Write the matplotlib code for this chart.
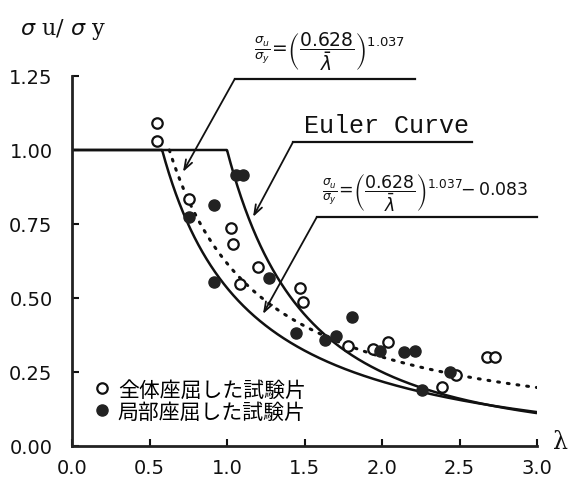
import numpy as np
import matplotlib
matplotlib.use("Agg")
import matplotlib.pyplot as plt

plt.rcParams['font.family'] = ['DejaVu Sans', 'Noto Sans CJK JP']

# ---- data ----
global_lam = [0.548, 0.548, 0.755, 1.026, 1.04, 1.084, 1.20, 1.47, 1.49,
              1.78, 1.94, 2.04, 2.39, 2.48, 2.68, 2.73]
global_val = [1.091, 1.03, 0.834, 0.736, 0.682, 0.547, 0.605, 0.534, 0.486,
              0.338, 0.328, 0.351, 0.199, 0.24, 0.30, 0.30]
local_lam = [1.06, 1.10, 0.916, 0.755, 0.916, 1.27, 1.806, 1.445, 1.63, 1.70,
             1.99, 2.14, 2.21, 2.44, 2.26]
local_val = [0.915, 0.915, 0.814, 0.774, 0.554, 0.567, 0.436, 0.382, 0.358, 0.372,
             0.321, 0.318, 0.321, 0.25, 0.189]
coef_a = 0.628
coef_n = 1.037
coef_shift = 0.083
legend_labels = ['全体座屈した試験片', '局部座屈した試験片']
xticks = [0.0, 0.5, 1.0, 1.5, 2.0, 2.5, 3.0]
yticks = [0.00, 0.25, 0.50, 0.75, 1.00, 1.25]

W, H = 583, 485
fig = plt.figure(figsize=(W / 100, H / 100), dpi=100)
ax = fig.add_axes([72 / W, 1 - 447 / H, (537 - 72) / W, (447 - 77) / H])
ax.set_xlim(0, 3.0)
ax.set_ylim(0, 1.25)

lam = np.linspace(0.0, 3.0, 1200)
# Euler curve
euler = np.where(lam <= 1.0, 1.0, 1.0 / np.maximum(lam, 1e-9) ** 2)
ax.plot(lam, euler, color='#111111', lw=1.8, solid_capstyle='butt')
# mean curve (dotted)
mean = np.minimum(1.0, (coef_a / np.maximum(lam, 1e-9)) ** coef_n)
m = lam >= coef_a
ax.plot(lam[m], mean[m], color='#111111', lw=2.2, linestyle=(0, (0.6, 2.6)),
        dash_capstyle='round')
# lower curve
lower = np.minimum(1.0, (coef_a / np.maximum(lam, 1e-9)) ** coef_n - coef_shift)
ax.plot(lam, lower, color='#111111', lw=1.8)

ax.plot(global_lam, global_val, 'o', ms=7.5, mfc='white', mec='#111111', mew=1.6,
        zorder=5, label=legend_labels[0])
ax.plot(local_lam, local_val, 'o', ms=8, mfc='#222222', mec='#222222', mew=1.0,
        zorder=5, label=legend_labels[1])

for s in ['top', 'right']:
    ax.spines[s].set_visible(False)
for s in ['left', 'bottom']:
    ax.spines[s].set_linewidth(2.0)
    ax.spines[s].set_color('#222222')
ax.set_xticks(xticks)
ax.set_yticks(yticks)
ax.set_xticklabels([f'{v:.1f}' for v in xticks])
ax.set_yticklabels([f'{v:.2f}' for v in yticks])
ax.tick_params(direction='in', length=5, width=1.5, labelsize=14, colors='#111111')
ax.tick_params(axis='y', pad=14)
ax.tick_params(axis='x', pad=9)

leg = ax.legend(loc='lower left', bbox_to_anchor=(0.02, 0.035), frameon=False,
                fontsize=15, handletextpad=0.25, labelspacing=0.0,
                handlelength=1.0, borderpad=0.2, borderaxespad=0.3)
for t in leg.get_texts():
    t.set_family(['Noto Sans CJK JP', 'DejaVu Sans'])

arrow = dict(arrowstyle='->, head_length=0.7, head_width=0.25', color='#111111',
             lw=1.3, shrinkA=0, shrinkB=0)
# formula 1 leader
ax.plot([1.05, 2.21], [1.24, 1.24], color='#111111', lw=1.6, clip_on=False)
ax.annotate('', xy=(0.716, 0.926), xytext=(1.05, 1.24), arrowprops=arrow,
            annotation_clip=False)
ax.text(1.66, 1.265,
        r'$\frac{\sigma_u}{\sigma_y}\!=\!\left(\dfrac{0.628}{\bar{\lambda}}\right)^{1.037}$',
        ha='center', va='bottom', fontsize=13.5, color='#111111')
# Euler leader
ax.plot([1.426, 2.58], [1.027, 1.027], color='#111111', lw=1.6, clip_on=False)
ax.annotate('', xy=(1.168, 0.774), xytext=(1.426, 1.027), arrowprops=arrow,
            annotation_clip=False)
ax.text(2.03, 1.045, 'Euler Curve', ha='center', va='bottom', fontsize=18,
        family='Liberation Mono', color='#111111')
# formula 2 leader
ax.plot([1.58, 3.0], [0.774, 0.774], color='#111111', lw=1.6, clip_on=False)
ax.annotate('', xy=(1.232, 0.446), xytext=(1.58, 0.774), arrowprops=arrow,
            annotation_clip=False)
ax.text(2.28, 0.79,
        r'$\frac{\sigma_u}{\sigma_y}\!=\!\left(\dfrac{0.628}{\bar{\lambda}}\right)^{1.037}\!\!-0.083$',
        ha='center', va='bottom', fontsize=12.5, color='#111111')

fig.text(20 / W, 1 - 30 / H, r'$\sigma$ u/ $\sigma$ y', fontsize=16, family='DejaVu Serif',
         ha='left', va='center', color='#111111')
fig.text(560 / W, 1 - 443 / H, 'λ', fontsize=17, family='DejaVu Serif',
         ha='center', va='center', color='#111111')

fig.savefig('out.png', dpi=100)
